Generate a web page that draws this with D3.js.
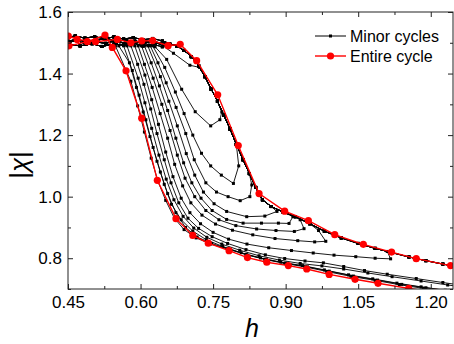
<!DOCTYPE html>
<html>
<head>
<meta charset="utf-8">
<script src="https://cdn.jsdelivr.net/npm/d3@7"></script>
<style>
  body { margin: 0; background: #fff; }
  svg { display: block; font-family: "Liberation Sans", Arial, sans-serif; }
</style>
</head>
<body>
<div id="chart"></div>
<script>
// --- axis ticks ---
const xTicks = [0.45, 0.60, 0.75, 0.90, 1.05, 1.20];
const xTickLabels = ["0.45", "0.60", "0.75", "0.90", "1.05", "1.20"];
const xMinor = [0.525, 0.675, 0.825, 0.975, 1.125];
const yTicks = [0.8, 1.0, 1.2, 1.4, 1.6];
const yTickLabels = ["0.8", "1.0", "1.2", "1.4", "1.6"];
const yMinor = [0.7, 0.9, 1.1, 1.3, 1.5];

const legendLabels = ["Minor cycles", "Entire cycle"];

// --- entire cycle (red), [h, |chi|] ---
const entireLower = [[0.452,1.490],[0.490,1.5035],[0.5265,1.525],[0.5416,1.485],[0.570,1.409],[0.6024,1.255],
  [0.6347,1.053],[0.6733,0.9285],[0.708,0.874],[0.740,0.849],[0.783,0.8245],[0.821,0.802],[0.861,0.787],
  [0.9055,0.776],[0.9436,0.765],[0.990,0.7475],[1.0435,0.7315],[1.091,0.7185],[1.1545,0.702],[1.21,0.689],[1.27,0.676]];
const entireUpper = [[1.27,0.768],[1.241,0.776],[1.170,0.7985],[1.119,0.820],[1.0606,0.845],[1.0015,0.8765],
  [0.947,0.922],[0.898,0.953],[0.845,1.010],[0.802,1.166],[0.7595,1.331],[0.716,1.442],[0.682,1.495],
  [0.657,1.4905],[0.625,1.507],[0.6024,1.506],[0.580,1.500],[0.552,1.511],[0.507,1.5035],[0.469,1.511],[0.4506,1.522]];

// --- minor cycles (black) ---
// shared upper (return) branch, h decreasing
const minorUpper = [[1.26,0.771],[1.225,0.781],[1.19,0.792],[1.155,0.804],[1.12,0.818],[1.085,0.832],[1.05,0.848],
  [1.015,0.866],[0.98,0.888],[0.95,0.912],[0.92,0.935],[0.895,0.950],[0.87,0.968],[0.852,0.99],[0.838,1.03],
  [0.825,1.075],[0.812,1.12],[0.798,1.17],[0.785,1.22],[0.772,1.265],[0.759,1.31],[0.746,1.35],[0.733,1.39],
  [0.72,1.425],[0.705,1.455],[0.69,1.475],[0.675,1.49],[0.66,1.497]];
// saturated plateau, h increasing
const topA = [[0.45,1.505],[0.47,1.512],[0.49,1.500],[0.51,1.508],[0.53,1.515],[0.55,1.503],[0.57,1.510],[0.59,1.502],[0.61,1.507],[0.63,1.498],[0.65,1.500],[0.67,1.493]];
const topB = [[0.45,1.495],[0.475,1.490],[0.50,1.497],[0.52,1.488],[0.545,1.496],[0.565,1.492],[0.585,1.499],[0.605,1.490],[0.625,1.495],[0.645,1.487],[0.665,1.490]];
const topC = [[0.45,1.518],[0.465,1.522],[0.485,1.515],[0.505,1.520],[0.525,1.513],[0.545,1.519],[0.565,1.512],[0.585,1.517],[0.605,1.510],[0.625,1.514],[0.645,1.506],[0.665,1.500]];
const topD = [[0.45,1.50],[0.468,1.508],[0.488,1.495],[0.508,1.503],[0.528,1.498],[0.548,1.507],[0.568,1.497],[0.588,1.505],[0.608,1.500],[0.628,1.505],[0.648,1.495],[0.668,1.497]];

// descending + lower branch of every minor loop
const loop1 = [[0.64,1.497],[0.668,1.466],[0.702,1.427],[0.722,1.42]];
const loop2 = [[0.63,1.487],[0.654,1.446],[0.685,1.349],[0.713,1.276],[0.745,1.230],[0.764,1.25],[0.768,1.275]];
const loop3 = [[0.625,1.49],[0.65,1.42],[0.672,1.34],[0.69,1.27],[0.708,1.2],[0.726,1.141],[0.745,1.10],[0.767,1.07],[0.792,1.043],[0.803,1.10]];
const loop4 = [[0.62,1.49],[0.636,1.435],[0.653,1.37],[0.6735,1.29],[0.6935,1.205],[0.711,1.12],[0.735,1.045],[0.757,1.015],[0.781,1.0],[0.806,0.987],[0.826,1.0],[0.83,1.038]];
const loop5 = [[0.615,1.49],[0.641,1.39],[0.6585,1.31],[0.676,1.23],[0.6945,1.14],[0.712,1.07],[0.73,1.015],[0.752,0.977],[0.778,0.952],[0.8195,0.935],[0.857,0.937],[0.882,0.952]];
const loop6 = [[0.608,1.49],[0.622,1.435],[0.639,1.36],[0.656,1.28],[0.673,1.19],[0.689,1.11],[0.706,1.045],[0.725,0.995],[0.748,0.955],[0.778,0.926],[0.812,0.914],[0.85,0.914],[0.885,0.914],[0.907,0.913],[0.915,0.935]];
const loop7 = [[0.602,1.49],[0.626,1.385],[0.644,1.30],[0.661,1.215],[0.676,1.135],[0.692,1.06],[0.712,1.0],[0.735,0.955],[0.762,0.925],[0.797,0.906],[0.84,0.895],[0.88,0.89],[0.918,0.887],[0.938,0.896],[0.93,0.925]];
const loop8 = [[0.595,1.49],[0.608,1.43],[0.624,1.355],[0.6405,1.27],[0.656,1.19],[0.6705,1.105],[0.687,1.035],[0.704,0.98],[0.727,0.94],[0.755,0.911],[0.79,0.891],[0.832,0.876],[0.878,0.864],[0.925,0.857],[0.96,0.853],[0.983,0.855],[0.968,0.89]];
const loop9 = [[0.588,1.49],[0.609,1.395],[0.623,1.315],[0.637,1.235],[0.652,1.145],[0.667,1.065],[0.684,0.995],[0.702,0.948],[0.724,0.912],[0.75,0.884],[0.782,0.862],[0.82,0.846],[0.865,0.834],[0.912,0.825],[0.957,0.817],[1.0,0.81],[1.045,0.805],[1.085,0.8],[1.117,0.798],[1.11,0.822]];
const loop10 = [[0.58,1.49],[0.594,1.43],[0.607,1.365],[0.621,1.285],[0.634,1.205],[0.649,1.12],[0.663,1.045],[0.679,0.98],[0.698,0.93],[0.72,0.897],[0.748,0.87],[0.78,0.848],[0.818,0.828],[0.858,0.811],[0.898,0.799],[0.94,0.791],[0.978,0.785],[1.02,0.773],[1.063,0.76],[1.11,0.748],[1.17,0.734],[1.225,0.721],[1.27,0.711]];
const loop11 = [[0.572,1.49],[0.595,1.385],[0.609,1.305],[0.623,1.222],[0.638,1.135],[0.653,1.057],[0.669,0.99],[0.688,0.936],[0.71,0.898],[0.737,0.868],[0.768,0.846],[0.805,0.826],[0.845,0.808],[0.887,0.794],[0.93,0.783],[0.975,0.775],[1.02,0.765],[1.07,0.752],[1.12,0.74],[1.18,0.726],[1.235,0.713],[1.27,0.706]];
const loop12 = [[0.565,1.49],[0.583,1.41],[0.597,1.33],[0.611,1.25],[0.626,1.16],[0.641,1.08],[0.656,1.01],[0.673,0.948],[0.693,0.9],[0.717,0.869],[0.747,0.848],[0.782,0.83],[0.82,0.811],[0.86,0.796],[0.90,0.784],[0.945,0.772],[0.99,0.758],[1.04,0.742],[1.09,0.729],[1.14,0.715],[1.19,0.704],[1.24,0.693],[1.28,0.686]];
const loop13 = [[0.555,1.49],[0.577,1.435],[0.5915,1.355],[0.6055,1.275],[0.6195,1.195],[0.634,1.115],[0.649,1.04],[0.664,0.975],[0.684,0.925],[0.708,0.888],[0.736,0.86],[0.77,0.838],[0.808,0.818],[0.848,0.801],[0.89,0.787],[0.935,0.776],[0.98,0.762],[1.03,0.746],[1.08,0.733],[1.13,0.719],[1.18,0.707],[1.23,0.696],[1.28,0.687]];
const loop14 = [[0.548,1.49],[0.58,1.375],[0.594,1.295],[0.608,1.21],[0.622,1.125],[0.636,1.05],[0.652,0.988],[0.67,0.93],[0.69,0.893],[0.715,0.866],[0.745,0.846],[0.78,0.83],[0.818,0.812],[0.857,0.796],[0.898,0.783],[0.94,0.772],[0.985,0.757],[1.035,0.741],[1.085,0.728],[1.135,0.714],[1.185,0.702],[1.235,0.69],[1.28,0.683]];

const minorLoops = [loop1, loop2, loop3, loop4, loop5, loop6, loop7, loop8, loop9, loop10, loop11, loop12, loop13, loop14];
const topBands = [topA, topB, topC, topD];

// --- sizing ---
const width = 454, height = 344;
const margin = { top: 12, right: 1, bottom: 55, left: 68 };
const plotW = width - margin.left - margin.right;
const plotH = height - margin.top - margin.bottom; // 277

const x = d3.scaleLinear().domain([0.45, 1.246]).range([margin.left, margin.left + plotW]);
const y = d3.scaleLinear().domain([0.7, 1.6]).range([margin.top + plotH, margin.top]);

const svg = d3.select("#chart").append("svg")
  .attr("width", width)
  .attr("height", height);

svg.append("clipPath").attr("id", "plot-clip")
  .append("rect")
  .attr("x", margin.left).attr("y", margin.top)
  .attr("width", plotW).attr("height", plotH);

const line = d3.line().x(d => x(d[0])).y(d => y(d[1]));

// build one closed minor loop out of plateau + loop + return branch
function buildLoop(loop, i) {
  const fwd = topBands[i % 4].filter(p => p[0] < loop[0][0]);
  const last = loop[loop.length - 1];
  const ret = minorUpper.filter(p => p[0] < last[0]);
  const back = topBands[(i + 2) % 4].filter(p => p[0] < ret[ret.length - 1][0]).reverse();
  return fwd.concat(loop, ret, back);
}

const plot = svg.append("g").attr("clip-path", "url(#plot-clip)");

// minor cycles
minorLoops.forEach((loop, i) => {
  const pts = buildLoop(loop, i);
  plot.append("path")
    .datum(pts)
    .attr("d", line)
    .attr("fill", "none")
    .attr("stroke", "#000")
    .attr("stroke-width", 0.9);
  plot.append("g").selectAll("rect")
    .data(pts)
    .enter().append("rect")
    .attr("x", d => x(d[0]) - 1.5)
    .attr("y", d => y(d[1]) - 1.5)
    .attr("width", 3).attr("height", 3)
    .attr("fill", "#000");
});

// entire cycle
const entire = entireLower.concat(entireUpper);
plot.append("path")
  .datum(entire)
  .attr("d", line)
  .attr("fill", "none")
  .attr("stroke", "#ff0000")
  .attr("stroke-width", 1.4);
plot.append("g").selectAll("circle")
  .data(entire)
  .enter().append("circle")
  .attr("cx", d => x(d[0]))
  .attr("cy", d => y(d[1]))
  .attr("r", 3.6)
  .attr("fill", "#ff0000");

// --- axes ---
const bottom = margin.top + plotH;
const right = margin.left + plotW;

function styleAxis(g) {
  g.select(".domain").remove();
  g.selectAll("line").attr("stroke", "#222");
  g.selectAll("text").attr("fill", "#000").attr("font-size", 17);
}

svg.append("g").attr("transform", `translate(0,${bottom})`)
  .call(d3.axisBottom(x).tickValues(xTicks).tickFormat((d, i) => xTickLabels[i]).tickSize(-5).tickPadding(7))
  .call(styleAxis);
svg.append("g").attr("transform", `translate(0,${bottom})`)
  .call(d3.axisBottom(x).tickValues(xMinor).tickFormat("").tickSize(-3))
  .call(styleAxis);
svg.append("g").attr("transform", `translate(0,${margin.top})`)
  .call(d3.axisTop(x).tickValues(xTicks).tickFormat("").tickSize(-5))
  .call(styleAxis);
svg.append("g").attr("transform", `translate(0,${margin.top})`)
  .call(d3.axisTop(x).tickValues(xMinor).tickFormat("").tickSize(-3))
  .call(styleAxis);

svg.append("g").attr("transform", `translate(${margin.left},0)`)
  .call(d3.axisLeft(y).tickValues(yTicks).tickFormat((d, i) => yTickLabels[i]).tickSize(-5).tickPadding(6))
  .call(styleAxis);
svg.append("g").attr("transform", `translate(${margin.left},0)`)
  .call(d3.axisLeft(y).tickValues(yMinor).tickFormat("").tickSize(-3))
  .call(styleAxis);
svg.append("g").attr("transform", `translate(${right},0)`)
  .call(d3.axisRight(y).tickValues(yTicks).tickFormat("").tickSize(-5))
  .call(styleAxis);
svg.append("g").attr("transform", `translate(${right},0)`)
  .call(d3.axisRight(y).tickValues(yMinor).tickFormat("").tickSize(-3))
  .call(styleAxis);

// frame
svg.append("rect")
  .attr("x", margin.left).attr("y", margin.top)
  .attr("width", plotW).attr("height", plotH)
  .attr("fill", "none").attr("stroke", "#222").attr("stroke-width", 1);

// axis titles
svg.append("text")
  .attr("x", 252).attr("y", 337)
  .attr("text-anchor", "middle")
  .attr("font-size", 25).attr("font-style", "italic")
  .text("h");

const yTitle = svg.append("text")
  .attr("transform", "translate(28,165) rotate(-90)")
  .attr("text-anchor", "middle")
  .attr("font-size", 26);
yTitle.append("tspan").text("|");
yTitle.append("tspan").attr("font-style", "italic").text("χ");
yTitle.append("tspan").text("|");

// --- legend ---
const legend = svg.append("g");
const rows = [
  { label: legendLabels[0], color: "#000", y: 36, marker: "rect" },
  { label: legendLabels[1], color: "#ff0000", y: 56, marker: "circle" }
];
rows.forEach(r => {
  legend.append("line")
    .attr("x1", 315).attr("x2", 346)
    .attr("y1", r.y).attr("y2", r.y)
    .attr("stroke", r.color)
    .attr("stroke-width", r.marker === "rect" ? 1 : 1.4);
  if (r.marker === "rect") {
    legend.append("rect").attr("x", 329).attr("y", r.y - 1.5)
      .attr("width", 3).attr("height", 3).attr("fill", r.color);
  } else {
    legend.append("circle").attr("cx", 330.5).attr("cy", r.y).attr("r", 3.6).attr("fill", r.color);
  }
  legend.append("text")
    .attr("x", 350).attr("y", r.y + 5.5)
    .attr("font-size", 16)
    .text(r.label);
});
</script>
</body>
</html>
